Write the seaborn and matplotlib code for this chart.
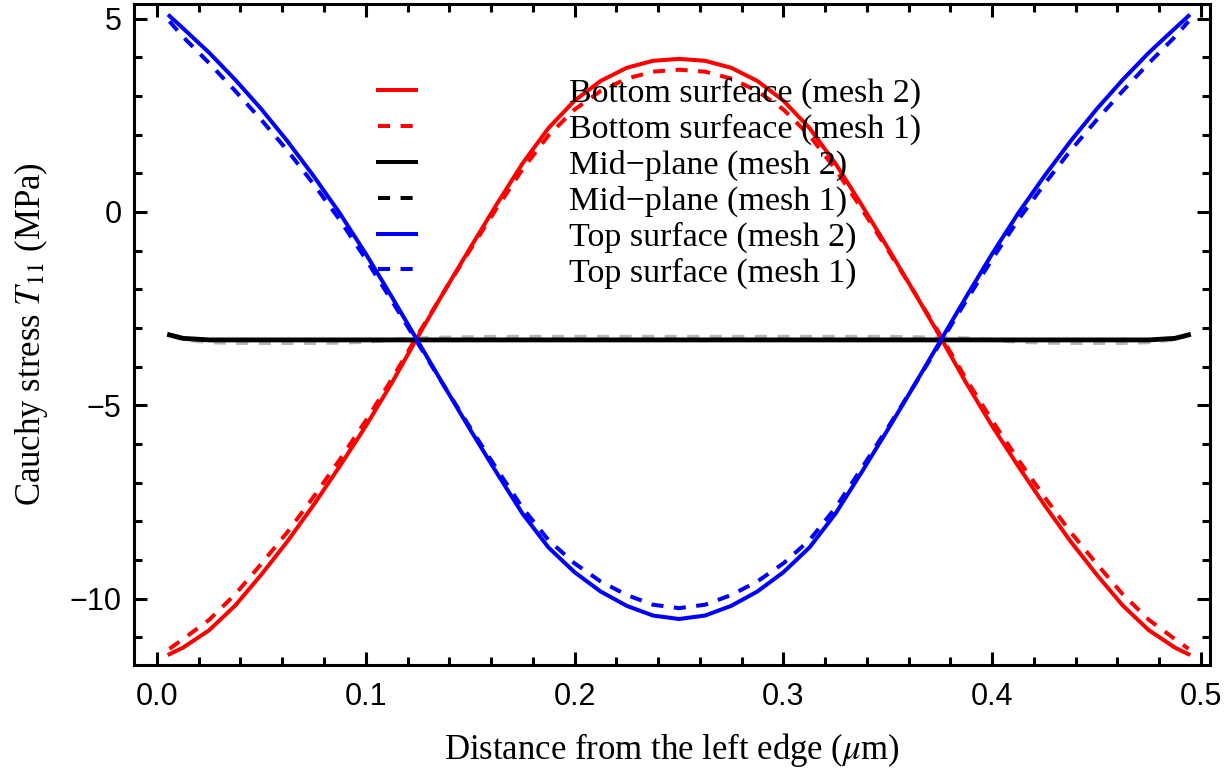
import numpy as np
import pandas as pd
import matplotlib
matplotlib.use("Agg")
import matplotlib.pyplot as plt
import seaborn as sns

plt.rcParams['mathtext.fontset'] = 'stix'

# ---------------- data ----------------
x_pos = [0.006, 0.0125, 0.025, 0.0375, 0.05, 0.0625, 0.075, 0.0875, 0.1, 0.1125,
         0.125, 0.1375, 0.15, 0.1625, 0.175, 0.1875, 0.2, 0.2125, 0.225, 0.2375,
         0.25, 0.2625, 0.275, 0.2875, 0.3, 0.3125, 0.325, 0.3375, 0.35, 0.3625,
         0.375, 0.3875, 0.4, 0.4125, 0.425, 0.4375, 0.45, 0.4625, 0.475, 0.4875, 0.494]

bottom_mesh2 = [-11.44, -11.27, -10.82, -10.18, -9.38, -8.52, -7.58, -6.58, -5.54, -4.42,
                -3.22, -2.06, -0.93, 0.18, 1.25, 2.17, 2.88, 3.39, 3.73, 3.91,
                3.96, 3.91, 3.73, 3.39, 2.88, 2.17, 1.25, 0.18, -0.93, -2.06,
                -3.22, -4.42, -5.54, -6.58, -7.58, -8.52, -9.38, -10.18, -10.82, -11.27, -11.44]

bottom_mesh1 = [-11.30, -11.05, -10.55, -9.89, -9.10, -8.28, -7.37, -6.41, -5.40, -4.32,
                -3.17, -2.06, -0.98, 0.08, 1.10, 1.98, 2.65, 3.13, 3.45, 3.63,
                3.68, 3.63, 3.45, 3.13, 2.65, 1.98, 1.10, 0.08, -0.98, -2.06,
                -3.17, -4.32, -5.40, -6.41, -7.37, -8.28, -9.10, -9.89, -10.55, -11.05, -11.30]

mid_mesh2 = [-3.18, -3.27, -3.31, -3.31, -3.31, -3.31, -3.31, -3.31, -3.31, -3.31,
             -3.31, -3.31, -3.31, -3.31, -3.31, -3.31, -3.31, -3.31, -3.31, -3.31,
             -3.31, -3.31, -3.31, -3.31, -3.31, -3.31, -3.31, -3.31, -3.31, -3.31,
             -3.31, -3.31, -3.31, -3.31, -3.31, -3.31, -3.31, -3.31, -3.31, -3.27, -3.18]

mid_mesh1 = [-3.18, -3.30, -3.37, -3.39, -3.39, -3.39, -3.39, -3.38, -3.36, -3.31,
             -3.27, -3.25, -3.24, -3.23, -3.23, -3.23, -3.23, -3.23, -3.23, -3.23,
             -3.23, -3.23, -3.23, -3.23, -3.23, -3.23, -3.23, -3.23, -3.23, -3.24,
             -3.25, -3.27, -3.31, -3.36, -3.38, -3.39, -3.39, -3.39, -3.37, -3.30, -3.18]

top_mesh2 = [5.07, 4.75, 4.12, 3.42, 2.66, 1.83, 0.93, -0.03, -1.08, -2.20,
             -3.35, -4.50, -5.63, -6.73, -7.80, -8.68, -9.32, -9.82, -10.19, -10.44,
             -10.53, -10.44, -10.19, -9.82, -9.32, -8.68, -7.80, -6.73, -5.63, -4.50,
             -3.35, -2.20, -1.08, -0.03, 0.93, 1.83, 2.66, 3.42, 4.12, 4.75, 5.07]

top_mesh1 = [4.93, 4.53, 3.85, 3.13, 2.38, 1.59, 0.72, -0.20, -1.22, -2.30,
             -3.40, -4.50, -5.58, -6.63, -7.65, -8.49, -9.09, -9.56, -9.91, -10.16,
             -10.25, -10.16, -9.91, -9.56, -9.09, -8.49, -7.65, -6.63, -5.58, -4.50,
             -3.40, -2.30, -1.22, -0.20, 0.72, 1.59, 2.38, 3.13, 3.85, 4.53, 4.93]

labels = ["Bottom surfeace (mesh 2)", "Bottom surfeace (mesh 1)",
          "Mid\u2212plane (mesh 2)", "Mid\u2212plane (mesh 1)",
          "Top surface (mesh 2)", "Top surface (mesh 1)"]

x_ticks = [0.0, 0.1, 0.2, 0.3, 0.4, 0.5]
x_ticklabels = ["0.0", "0.1", "0.2", "0.3", "0.4", "0.5"]
y_ticks = [-10, -5, 0, 5]
y_ticklabels = ["\u221210", "\u22125", "0", "5"]

# ---------------- figure ----------------
W, H = 1231, 780
fig = plt.figure(figsize=(W / 100, H / 100), dpi=100)
ax = fig.add_axes([134 / W, (H - 665) / H, (1210 - 134) / W, (665 - 4) / H])

df = pd.DataFrame({"x": x_pos})
series = [
    (bottom_mesh1, "red", "dash", 1.0, 2, 2.9, labels[1]),
    (bottom_mesh2, "red", "solid", 1.0, 3, 2.9, labels[0]),
    (mid_mesh1, "black", "dash", 0.28, 2, 2.9, labels[3]),
    (mid_mesh2, "black", "solid", 1.0, 3, 3.5, labels[2]),
    (top_mesh1, "blue", "dash", 1.0, 2, 2.9, labels[5]),
    (top_mesh2, "blue", "solid", 1.0, 3, 2.9, labels[4]),
]
dash_style = (0, (3.0, 2.6))
for vals, col, ls, alpha, z, lw, lab in series:
    d = df.copy()
    d["y"] = vals
    sns.lineplot(data=d, x="x", y="y", ax=ax, color=col, lw=lw, alpha=alpha,
                 linestyle=dash_style if ls == "dash" else "-",
                 sort=False, estimator=None, label=lab, zorder=z,
                 legend=False, solid_joinstyle="round")

ax.set_xlim(-0.011, 0.5043)
ax.set_ylim(-11.72, 5.38)

ax.set_xticks(x_ticks)
ax.set_xticklabels(x_ticklabels)
ax.set_yticks(y_ticks)
ax.set_yticklabels(y_ticklabels)
ax.set_xticks(np.arange(0, 0.5001, 0.02), minor=True)
ax.set_yticks(np.arange(-11, 5.01, 1), minor=True)

ax.tick_params(which="both", direction="in", top=True, right=True,
               width=2.2, color="black")
ax.tick_params(which="major", length=9.5, labelsize=22)
ax.tick_params(axis="x", which="major", pad=12)
ax.tick_params(axis="y", which="major", pad=9)
ax.tick_params(which="minor", length=5.5)
for lab in ax.get_xticklabels() + ax.get_yticklabels():
    lab.set_fontfamily("Liberation Sans")
for sp in ax.spines.values():
    sp.set_linewidth(2.2)
    sp.set_color("black")

ax.set_xlabel("Distance from the left edge ($\\mu$m)", fontsize=25,
              fontfamily="Liberation Serif", labelpad=14)
ax.set_ylabel("Cauchy stress $T_{11}$ (MPa)", fontsize=25,
              fontfamily="Liberation Serif", labelpad=14)

# legend in the requested order
lines = {l.get_label(): l for l in ax.get_lines()}
handles = [lines[l] for l in labels]
leg = ax.legend(handles, labels, loc="upper left",
                bbox_to_anchor=(378 / W, 1 - 78 / H), bbox_transform=fig.transFigure,
                frameon=False, borderpad=0, borderaxespad=0,
                prop={"family": "Liberation Serif", "size": 24.5},
                handlelength=1.12, handletextpad=4.5, labelspacing=0.135)
for lh in leg.get_lines():
    lh.set_alpha(1.0)
    lh.set_linewidth(2.9)

fig.savefig("out.png", dpi=100)
